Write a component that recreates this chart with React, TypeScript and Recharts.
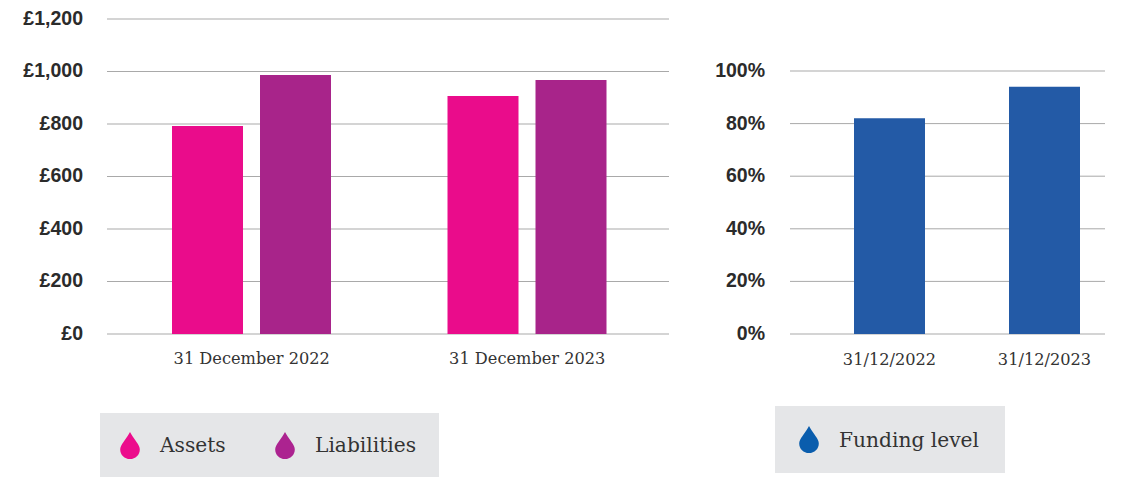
import React from "react";
import { BarChart, Bar, XAxis, YAxis, CartesianGrid, Legend } from "recharts";

const balanceDates = ["31 December 2022", "31 December 2023"];
const assets = [792, 907];
const liabilities = [987, 968];
const balanceTicks = [0, 200, 400, 600, 800, 1000, 1200];

const fundingDates = ["31/12/2022", "31/12/2023"];
const fundingLevel = [82, 94];
const fundingTicks = [0, 20, 40, 60, 80, 100];

const balanceRows = balanceDates.map((date, i) => ({
  date,
  assets: assets[i],
  liabilities: liabilities[i],
}));
const fundingRows = fundingDates.map((date, i) => ({
  date,
  funding: fundingLevel[i],
}));

const PINK = "#ea0c8b";
const PURPLE = "#a8248a";
const BLUE = "#235aa6";
const GRID = "#a9a9a9";
const SLAB = "'DejaVu Serif', serif";
const SANS = "'Liberation Sans', Arial, sans-serif";

const yTick = { fontFamily: SANS, fontSize: 19.5, fontWeight: 700, fill: "#2b2b2b", dy: -1 };
const xTick = { fontFamily: SLAB, fontSize: 16.2, fill: "#333" };

const pounds = (v: number) => `£${v.toLocaleString("en-GB")}`;
const percent = (v: number) => `${v}%`;

function Drop({ color }: { color: string }) {
  return (
    <svg width={20} height={27} viewBox="0 0 20 27" style={{ display: "block", flex: "none" }}>
      <path
        d="M10 0 C11.5 3 14 6 16.5 10 C18.6 13 19.8 15 19.8 17.4 C19.8 22.8 15.4 27 10 27 C4.6 27 0.2 22.8 0.2 17.4 C0.2 15 1.4 13 3.5 10 C6 6 8.5 3 10 0 Z"
        fill={color}
      />
    </svg>
  );
}

function DropLegend({ payload, itemWidth, swatches, pad }: any) {
  return (
    <div
      style={{
        boxSizing: "border-box",
        width: "100%",
        height: "100%",
        background: "#e5e6e8",
        display: "flex",
        alignItems: "center",
        paddingLeft: pad,
      }}
    >
      {(payload || []).map((entry: any, i: number) => (
        <div key={entry.value} style={{ display: "flex", alignItems: "center", width: itemWidth }}>
          <Drop color={swatches[i]} />
          <span style={{ marginLeft: 20, fontFamily: SLAB, fontSize: 20.2, color: "#333", whiteSpace: "nowrap" }}>
            {entry.value}
          </span>
        </div>
      ))}
    </div>
  );
}

export default function App() {
  return (
    <div style={{ position: "absolute", left: 0, top: 0, width: 1133, height: 477, overflow: "hidden", background: "#fff" }}>
      <div style={{ position: "absolute", left: 0, top: 0 }}>
        <BarChart
          width={680}
          height={477}
          data={balanceRows}
          margin={{ top: 19, right: 11, left: 0, bottom: 49 }}
          barSize={71}
          barGap={17}
        >
          <CartesianGrid vertical={false} stroke={GRID} strokeWidth={1} />
          <XAxis
            dataKey="date"
            axisLine={false}
            tickLine={false}
            tickSize={0}
            tickMargin={18}
            height={30}
            tick={xTick}
            interval={0}
            padding={{ left: 7, right: 4 }}
          />
          <YAxis
            domain={[0, 1200]}
            ticks={balanceTicks}
            width={107}
            axisLine={false}
            tickLine={false}
            tickSize={0}
            tickMargin={24}
            tick={yTick}
            tickFormatter={pounds}
            interval={0}
          />
          <Bar dataKey="assets" name="Assets" fill={PINK} isAnimationActive={false} />
          <Bar dataKey="liabilities" name="Liabilities" fill={PURPLE} isAnimationActive={false} />
          <Legend
            content={<DropLegend itemWidth={155} swatches={["#ec0c8c", "#ac2390"]} pad={20} />}
            wrapperStyle={{ left: 100, top: 413, bottom: "auto", width: 339, height: 64 }}
          />
        </BarChart>
      </div>
      <div style={{ position: "absolute", left: 680, top: 0 }}>
        <BarChart
          width={453}
          height={477}
          data={fundingRows}
          margin={{ top: 71, right: 28, left: 0, bottom: 46 }}
          barSize={71}
        >
          <CartesianGrid vertical={false} stroke={GRID} strokeWidth={1} />
          <XAxis
            dataKey="date"
            scale="point"
            axisLine={false}
            tickLine={false}
            tickSize={0}
            tickMargin={19}
            height={30}
            tick={xTick}
            interval={0}
            padding={{ left: 99.5, right: 60.5 }}
          />
          <YAxis
            domain={[0, 100]}
            ticks={fundingTicks}
            width={110}
            axisLine={false}
            tickLine={false}
            tickSize={0}
            tickMargin={25}
            tick={yTick}
            tickFormatter={percent}
            interval={0}
          />
          <Bar dataKey="funding" name="Funding level" fill={BLUE} isAnimationActive={false} />
          <Legend
            content={<DropLegend itemWidth={200} swatches={["#0a5dad"]} pad={24} />}
            wrapperStyle={{ left: 95, top: 406, bottom: "auto", width: 230, height: 67 }}
          />
        </BarChart>
      </div>
    </div>
  );
}
